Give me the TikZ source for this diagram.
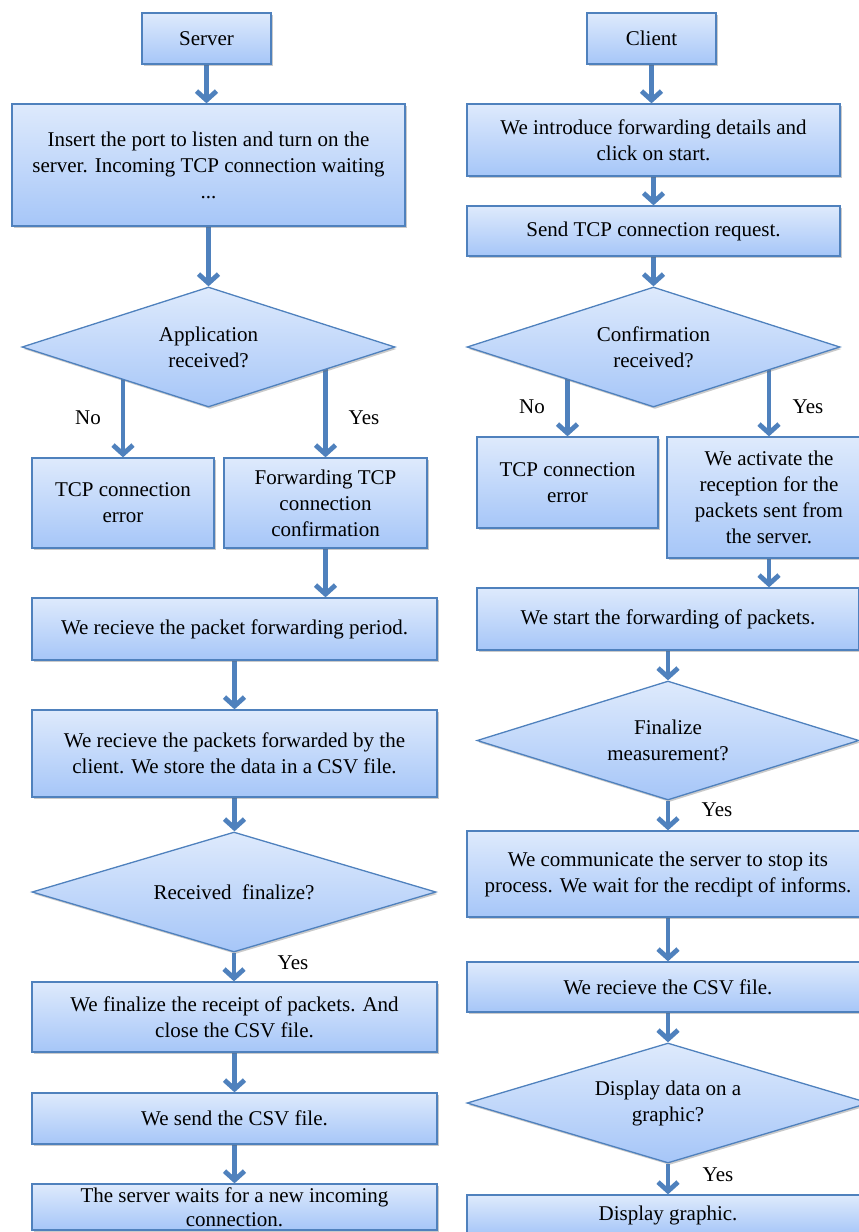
\documentclass[tikz,border=0pt]{standalone}
\usepackage{fontspec}
\setmainfont{Liberation Serif}
\usetikzlibrary{shapes.geometric,arrows.meta,shadows,calc}
\pgfdeclarelayer{background}
\pgfsetlayers{background,main}
\definecolor{bord}{RGB}{79,129,189}
\definecolor{ftop}{RGB}{222,234,252}
\definecolor{fbot}{RGB}{166,198,248}
\tikzset{
  base/.style={draw=bord, line width=1.3pt, top color=ftop, bottom color=fbot,
    inner sep=0pt, align=center, font=\fontsize{21}{26}\selectfont,
    drop shadow={shadow xshift=1.5pt, shadow yshift=-2pt, opacity=0.35, fill=black!60}},
  proc/.style={base, rectangle},
  dec/.style={base, diamond},
  arr/.style={draw=bord, line width=4.8pt, -{Straight Barb[length=9pt,width=20pt]}},
  lbl/.style={font=\fontsize{21}{26}\selectfont, inner sep=0pt}
}
\begin{document}
\begin{tikzpicture}[x=1pt, y=-1pt]
\useasboundingbox (0,0) rectangle (859,1232);
\clip (0,0) rectangle (859,1232);
% left column
\node[proc, minimum width=129pt, minimum height=51pt] (server) at (206.5,38.5) {Server};
\node[proc, minimum width=393pt, minimum height=122pt] (insert) at (208.5,165) {Insert the port to listen and turn on the\\ server. Incoming TCP connection waiting\\ ...};
\node[dec, minimum width=373pt, minimum height=120pt, aspect=3.1] (d1) at (208.5,347) {Application\\ received?};
\node[proc, minimum width=182pt, minimum height=90pt] (err1) at (123,503) {TCP connection\\ error};
\node[proc, minimum width=203pt, minimum height=90pt] (fwd) at (325.5,503) {Forwarding TCP\\ connection\\ confirmation};
\node[proc, minimum width=405pt, minimum height=62pt] (period) at (234.5,629) {We recieve the packet forwarding period.};
\node[proc, minimum width=405pt, minimum height=87pt] (store) at (234.5,753.5) {We recieve the packets forwarded by the\\ client. We store the data in a CSV file.};
\node[dec, minimum width=404pt, minimum height=120pt, aspect=3.37] (d2) at (234,892) {Received\ \ finalize?};
\node[proc, minimum width=405pt, minimum height=70pt] (fin) at (234.5,1017) {We finalize the receipt of packets. And\\ close the CSV file.};
\node[proc, minimum width=405pt, minimum height=51pt] (send) at (234.5,1118.5) {We send the CSV file.};
\node[proc, minimum width=405pt, minimum height=46pt, font=\fontsize{21}{24}\selectfont] (wait) at (234.5,1207) {The server waits for a new incoming\\ connection.};
% right column
\node[proc, minimum width=129pt, minimum height=51pt] (client) at (651.5,38.5) {Client};
\node[proc, minimum width=373pt, minimum height=72pt] (intro) at (653.5,140) {We introduce forwarding details and\\ click on start.};
\node[proc, minimum width=373pt, minimum height=50pt] (req) at (653.5,231) {Send TCP connection request.};
\node[dec, minimum width=373pt, minimum height=120pt, aspect=3.1] (d3) at (653.5,347) {Confirmation\\ received?};
\node[proc, minimum width=181pt, minimum height=91pt] (err2) at (567.5,482.5) {TCP connection\\ error};
\node[proc, minimum width=204pt, minimum height=121pt] (act) at (769,497.5) {We activate the\\ reception for the\\ packets sent from\\ the server.};
\node[proc, minimum width=382pt, minimum height=62pt] (start) at (668,619) {We start the forwarding of packets.};
\node[dec, minimum width=382pt, minimum height=119pt, aspect=3.2] (d4) at (668,740.5) {Finalize\\ measurement?};
\node[proc, minimum width=402pt, minimum height=86pt] (comm) at (668,874) {We communicate the server to stop its\\ process. We wait for the recdipt of informs.};
\node[proc, minimum width=402pt, minimum height=50pt] (csv) at (668,987) {We recieve the CSV file.};
\node[dec, minimum width=402pt, minimum height=120pt, aspect=3.35] (d5) at (668,1103) {Display data on a\\ graphic?};
\node[proc, minimum width=402pt, minimum height=40pt] (disp) at (668,1215) {Display graphic.};
% labels
\node[lbl] (no1) at (88,418) {No};
\node[lbl] (yes1) at (364,418) {Yes};
\node[lbl] (no2) at (532,407) {No};
\node[lbl] (yes2) at (808,407) {Yes};
\node[lbl] (yes3) at (293,963) {Yes};
\node[lbl] (yes4) at (717,810) {Yes};
\node[lbl] (yes5) at (718,1175) {Yes};
% connectors
\begin{pgfonlayer}{background}
\draw[arr] (server.south) -- (server.south |- insert.north);
\draw[arr] (insert.south) -- (insert.south |- d1.north);
\draw[arr] (err1.north |- d1.center) -- (err1.north);
\draw[arr] (fwd.north |- d1.center) -- (fwd.north);
\draw[arr] (fwd.south) -- (fwd.south |- period.north);
\draw[arr] (period.south) -- (period.south |- store.north);
\draw[arr] (store.south) -- (store.south |- d2.north);
\draw[arr] (d2.south) -- (d2.south |- fin.north);
\draw[arr] (fin.south) -- (fin.south |- send.north);
\draw[arr] (send.south) -- (send.south |- wait.north);
\draw[arr] (client.south) -- (client.south |- intro.north);
\draw[arr] (intro.south) -- (intro.south |- req.north);
\draw[arr] (req.south) -- (req.south |- d3.north);
\draw[arr] (err2.north |- d3.center) -- (err2.north);
\draw[arr] (act.north |- d3.center) -- (act.north);
\draw[arr] (act.south) -- (act.south |- start.north);
\draw[arr] (start.south) -- (start.south |- d4.north);
\draw[arr] (d4.south) -- (d4.south |- comm.north);
\draw[arr] (comm.south) -- (comm.south |- csv.north);
\draw[arr] (csv.south) -- (csv.south |- d5.north);
\draw[arr] (d5.south) -- (d5.south |- disp.north);
\end{pgfonlayer}
\end{tikzpicture}
\end{document}
